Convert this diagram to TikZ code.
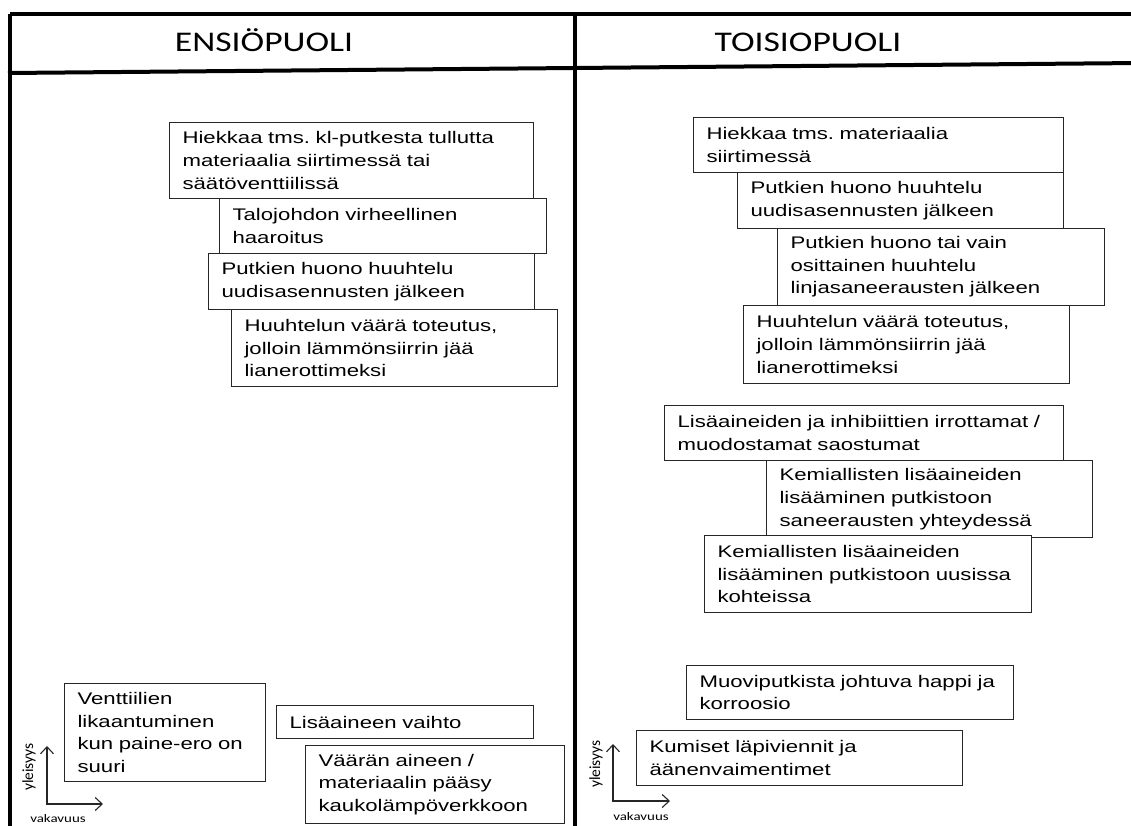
\documentclass[tikz,border=0pt]{standalone}
\usepackage{fontspec}
\setmainfont{Liberation Sans}
\newfontfamily\boxfont[FakeStretch=1.32]{Liberation Sans}
\newfontfamily\hdrfont[FakeStretch=1.25]{Carlito}
\newfontfamily\axfont[FakeStretch=1.3]{Carlito}
\newfontfamily\axrfont{Carlito}
\usetikzlibrary{arrows.meta}
\tikzset{
  box/.style={draw=black!85, line width=1.1pt, fill=white, anchor=north west,
    inner xsep=13pt, inner ysep=0pt, align=left,
    font=\boxfont\fontsize{16.8}{22.6}\selectfont\frenchspacing},
  tableline/.style={line width=4pt, black},
  header/.style={anchor=base, inner sep=0pt, font=\hdrfont\fontsize{28.5}{34}\selectfont},
  axlabel/.style={inner sep=0pt, font=\axfont\fontsize{11.5}{14}\selectfont},
  axrlabel/.style={inner sep=0pt, font=\axrfont\fontsize{15.5}{18}\selectfont},
  axis/.style={line width=1.1pt, black!85,
    {Straight Barb[length=7pt,width=13pt,line width=1.1pt]}-{Straight Barb[length=7pt,width=13pt,line width=1.1pt]}}
}
\begin{document}
\begin{tikzpicture}[x=1pt,y=-1pt]
\useasboundingbox (0,0) rectangle (1131,825);
% table
\coordinate (TL) at (10,14);
\coordinate (TR) at (1140,14);
\coordinate (BL) at (10,830);
\coordinate (HL) at (8,73);
\coordinate (HR) at (1140,63);
\coordinate (MT) at (575,14);
\coordinate (MB) at (575,830);
\draw[tableline] (TL) -- (TR);
\draw[tableline] (TL) -- (BL);
\draw[tableline] (HL) -- (HR);
\draw[tableline] (MT) -- (MB);
\node[header] (h1) at (264,51) {ENSIÖPUOLI};
\node[header] (h2) at (808,51) {TOISIOPUOLI};
% left boxes
\node[box, text width=338pt, minimum height=76pt] (L1) at (169,122) {Hiekkaa tms. kl-putkesta tullutta\\materiaalia siirtimessä tai\\säätöventtiilissä};
\node[box, text width=301pt, minimum height=55pt] (L2) at (219,198) {Talojohdon virheellinen\\haaroitus};
\node[box, text width=300pt, minimum height=56pt] (L3) at (208,253) {Putkien huono huuhtelu\\uudisasennusten jälkeen};
\node[box, text width=300pt, minimum height=77pt] (L4) at (231,309) {Huuhtelun väärä toteutus,\\jolloin lämmönsiirrin jää\\lianerottimeksi};
\node[box, text width=175pt, minimum height=98pt] (L5) at (64,683) {Venttiilien\\likaantuminen\\kun paine-ero on\\suuri};
\node[box, text width=231pt, minimum height=33pt] (L6) at (276,705) {Lisäaineen vaihto};
\node[box, text width=233pt, minimum height=78pt] (L7) at (305,745) {Väärän aineen /\\materiaalin pääsy\\kaukolämpöverkkoon};
% right boxes
\node[box, text width=344pt, minimum height=55pt] (R1) at (693,117) {Hiekkaa tms. materiaalia\\siirtimessä};
\node[box, text width=300pt, minimum height=56pt] (R2) at (737,172) {Putkien huono huuhtelu\\uudisasennusten jälkeen};
\node[box, text width=301pt, minimum height=77pt] (R3) at (777,228) {Putkien huono tai vain\\osittainen huuhtelu\\linjasaneerausten jälkeen};
\node[box, text width=300pt, minimum height=78pt] (R4) at (743,305) {Huuhtelun väärä toteutus,\\jolloin lämmönsiirrin jää\\lianerottimeksi};
\node[box, text width=373pt, minimum height=55pt] (R5) at (664,405) {Lisäaineiden ja inhibiittien irrottamat /\\muodostamat saostumat};
\node[box, text width=300pt, minimum height=77pt] (R6) at (766,460) {Kemiallisten lisäaineiden\\lisääminen putkistoon\\saneerausten yhteydessä};
\node[box, text width=301pt, minimum height=77pt] (R7) at (704,535) {Kemiallisten lisäaineiden\\lisääminen putkistoon uusissa\\kohteissa};
\node[box, text width=301pt, minimum height=54pt] (R8) at (686,665) {Muoviputkista johtuva happi ja\\korroosio};
\node[box, text width=300pt, minimum height=55pt] (R9) at (636,730) {Kumiset läpiviennit ja\\äänenvaimentimet};
% left axis
\coordinate (Lo) at (47,804);
\coordinate (Ly) at (47,746);
\coordinate (Lx) at (103,804);
\draw[axis] (Ly) -- (Lo) -- (Lx);
\node[axrlabel, rotate=90] (Lyl) at (29,767) {yleisyys};
\node[axlabel, anchor=base] (Lxl) at (58,822) {vakavuus};
% right axis
\coordinate (Ro) at (613,801);
\coordinate (Ry) at (613,744);
\coordinate (Rx) at (670,801);
\draw[axis] (Ry) -- (Ro) -- (Rx);
\node[axrlabel, rotate=90] (Ryl) at (596,764) {yleisyys};
\node[axlabel, anchor=base] (Rxl) at (641,820) {vakavuus};
\end{tikzpicture}
\end{document}
